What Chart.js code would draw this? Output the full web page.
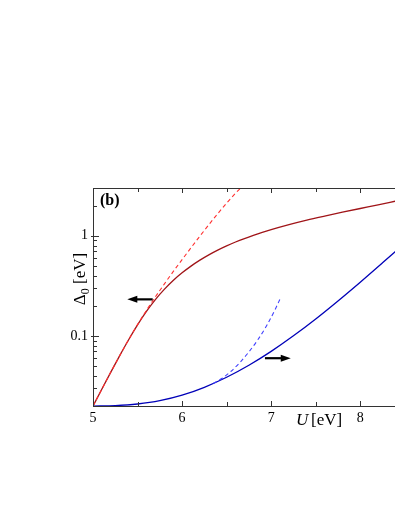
<!DOCTYPE html>
<html>
<head>
<meta charset="utf-8">
<script src="https://cdn.jsdelivr.net/npm/chart.js@4"></script>
<style>
  html, body { margin: 0; padding: 0; background: #fff; }
  #wrap { width: 395px; height: 511px; position: relative; }
</style>
</head>
<body>
<div id="wrap"><canvas id="c" width="395" height="511"></canvas></div>
<script>
// U [eV] values and Delta_0 [eV]
const redU = [5.0, 5.1, 5.2, 5.3, 5.4, 5.5, 5.6, 5.7, 5.8, 5.9, 6.0, 6.1, 6.2, 6.3, 6.4, 6.5, 6.6, 6.7, 6.8, 6.9, 7.0, 7.2, 7.4, 7.6, 7.8, 8.0, 8.2, 8.4];
const redGap = [0.01995, 0.02958, 0.04359, 0.06368, 0.09173, 0.1292, 0.1760, 0.2307, 0.2920, 0.3581, 0.4266, 0.4983, 0.5715, 0.6457, 0.7205, 0.7943, 0.8670, 0.9386, 1.0104, 1.0827, 1.1548, 1.2957, 1.4372, 1.5757, 1.7199, 1.8730, 2.0347, 2.2233];

const redFitU = [5.0, 5.1, 5.2, 5.3, 5.4, 5.5, 5.6, 5.7, 5.8, 5.9, 6.0, 6.2, 6.4, 6.6, 6.7];
const redFitGap = [0.01995, 0.02958, 0.04359, 0.06368, 0.09173, 0.1299, 0.1803, 0.2455, 0.3296, 0.4385, 0.5788, 0.992, 1.662, 2.661, 3.24];

const blueU = [5.0, 5.25, 5.5, 5.75, 6.0, 6.25, 6.5, 6.75, 7.0, 7.25, 7.5, 7.75, 8.0, 8.25, 8.4];
const blueGap = [0.01995, 0.02018, 0.02095, 0.02258, 0.02563, 0.03073, 0.03869, 0.05099, 0.07017, 0.1003, 0.1479, 0.2239, 0.3447, 0.5370, 0.7031];

const blueFitU = [6.35, 6.45, 6.55, 6.65, 6.75, 6.85, 6.95, 7.05, 7.1];
const blueFitGap = [0.03365, 0.03784, 0.04446, 0.05451, 0.06934, 0.09162, 0.1272, 0.1881, 0.2347];

const xTicks = [5, 5.5, 6, 6.5, 7, 7.5, 8];
const yTicks = [0.02, 0.03, 0.04, 0.05, 0.06, 0.07, 0.08, 0.09, 0.1, 0.2, 0.3, 0.4, 0.5, 0.6, 0.7, 0.8, 0.9, 1, 2, 3];
const yLabeled = [0.1, 1];

// arrows: [fromU, toU, gap]
const arrows = [[5.67, 5.385, 0.232], [6.93, 7.22, 0.060]];

const pts = (xs, ys) => xs.map((x, i) => ({ x: x, y: ys[i] }));

const frame = {
  id: 'frame',
  afterDatasetsDraw(chart) {
    const ctx = chart.ctx;
    const a = chart.chartArea;
    const xs = chart.scales.x, ys = chart.scales.y;
    ctx.save();
    ctx.strokeStyle = '#333';
    ctx.lineWidth = 1;
    // top border
    ctx.beginPath();
    ctx.moveTo(a.left, a.top + 0.5);
    ctx.lineTo(a.right, a.top + 0.5);
    ctx.stroke();
    // inward ticks
    ctx.beginPath();
    xTicks.forEach(v => {
      const px = Math.round(xs.getPixelForValue(v)) + 0.5;
      const len = Number.isInteger(v) ? 5 : 4;
      ctx.moveTo(px, a.bottom); ctx.lineTo(px, a.bottom - len);
      ctx.moveTo(px, a.top); ctx.lineTo(px, a.top + len);
    });
    yTicks.forEach(v => {
      const py = Math.round(ys.getPixelForValue(v)) + 0.5;
      const major = yLabeled.includes(v);
      ctx.moveTo(a.left - (major ? 2 : 0), py); ctx.lineTo(a.left + (major ? 6 : 4), py);
    });
    ctx.stroke();

    // arrows
    ctx.fillStyle = '#000';
    ctx.strokeStyle = '#000';
    ctx.lineWidth = 2.2;
    arrows.forEach(([u0, u1, g]) => {
      const x0 = xs.getPixelForValue(u0), x1 = xs.getPixelForValue(u1), y = ys.getPixelForValue(g);
      const dir = Math.sign(x1 - x0);
      ctx.beginPath();
      ctx.moveTo(x0, y); ctx.lineTo(x1 - dir * 7, y);
      ctx.stroke();
      ctx.beginPath();
      ctx.moveTo(x1, y);
      ctx.lineTo(x1 - dir * 10, y - 3.5);
      ctx.lineTo(x1 - dir * 10, y + 3.5);
      ctx.closePath();
      ctx.fill();
    });

    // panel tag
    ctx.fillStyle = '#000';
    ctx.font = 'bold 16px "Liberation Serif"';
    ctx.textBaseline = 'middle';
    ctx.textAlign = 'left';
    ctx.fillText('(b)', a.left + 7, a.top + 13);

    // x title
    ctx.textBaseline = 'alphabetic';
    ctx.font = 'italic 17px "Liberation Serif"';
    ctx.fillText('U', 296, 425);
    ctx.font = '17px "Liberation Serif"';
    ctx.fillText('[eV]', 311, 425);

    // y title
    ctx.translate(85, 279);
    ctx.rotate(-Math.PI / 2);
    ctx.textAlign = 'left';
    const parts = [['Δ', '17px "Liberation Serif"', 0], ['0', '12px "Liberation Serif"', 4], [' [eV]', '17px "Liberation Serif"', 0]];
    let w = 0;
    parts.forEach(([t, f]) => { ctx.font = f; w += ctx.measureText(t).width; });
    let cx = -w / 2;
    parts.forEach(([t, f, dy]) => {
      ctx.font = f;
      ctx.fillText(t, cx, dy);
      cx += ctx.measureText(t).width;
    });
    ctx.restore();
  }
};

new Chart(document.getElementById('c'), {
  type: 'line',
  data: {
    datasets: [
      { data: pts(redFitU, redFitGap), borderColor: '#ff3030', borderDash: [4, 3], borderWidth: 1.1 },
      { data: pts(blueFitU, blueFitGap), borderColor: '#4040ff', borderDash: [4, 3], borderWidth: 1.1 },
      { data: pts(redU, redGap), borderColor: '#a01418', borderWidth: 1.3 },
      { data: pts(blueU, blueGap), borderColor: '#0000b8', borderWidth: 1.3 },
    ],
  },
  options: {
    responsive: false,
    animation: false,
    events: [],
    clip: true,
    layout: { padding: { top: 188, right: 0, left: 0, bottom: 0 } },
    elements: {
      point: { radius: 0 },
      line: { cubicInterpolationMode: 'monotone', fill: false },
    },
    plugins: { legend: { display: false }, tooltip: { enabled: false } },
    scales: {
      x: {
        type: 'linear',
        min: 5,
        max: 8.39,
        grid: { display: false, drawTicks: false },
        border: { display: true, color: '#333', width: 1 },
        afterBuildTicks: s => { s.ticks = xTicks.map(v => ({ value: v })); },
        afterFit: s => { s.height = 105; },
        ticks: {
          autoSkip: false,
          maxRotation: 0,
          padding: 4,
          color: '#000',
          font: { family: 'Liberation Serif', size: 14 },
          callback: v => (Number.isInteger(v) ? String(v) : ''),
        },
      },
      y: {
        type: 'logarithmic',
        min: 0.02,
        max: 3,
        grid: { display: false, drawTicks: false },
        border: { display: true, color: '#333', width: 1 },
        afterBuildTicks: s => { s.ticks = yTicks.map(v => ({ value: v })); },
        afterFit: s => { s.width = 93; },
        ticks: {
          autoSkip: false,
          padding: 5,
          color: '#000',
          font: { family: 'Liberation Serif', size: 14 },
          callback: v => (v === 0.1 ? '0.1' : v === 1 ? '1' : ''),
        },
      },
    },
  },
  plugins: [frame],
});
</script>
</body>
</html>
